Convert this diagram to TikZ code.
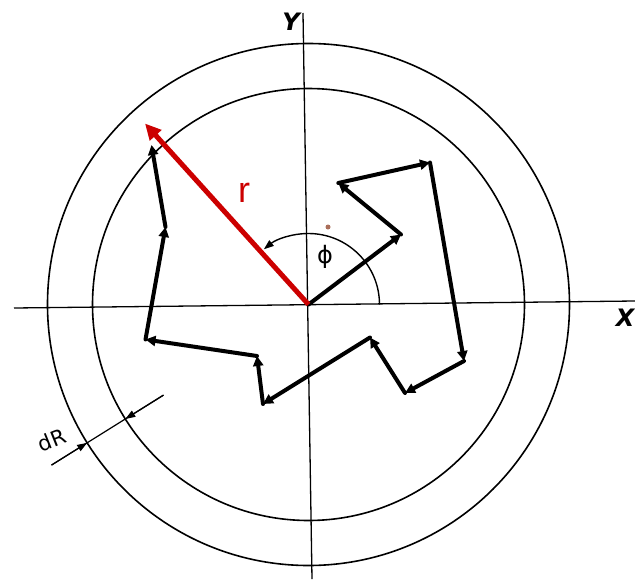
\documentclass[tikz,border=0pt]{standalone}
\usepackage{fontspec}
\setmainfont{Liberation Sans}
\newfontfamily\dejavu{DejaVu Sans}
\usetikzlibrary{arrows.meta,calc}
\definecolor{rred}{RGB}{204,0,0}
\definecolor{dotbrown}{RGB}{170,110,90}
\tikzset{
  ring/.style={line width=1.6pt, black},
  axis/.style={line width=1.3pt, black},
  walk/.style={line width=4pt, line cap=round, line join=round, -{Triangle[length=10pt,width=10pt]}},
  rvec/.style={line width=5pt, rred, -{Triangle[length=16pt,width=15pt]}},
  dimline/.style={line width=1.2pt},
  dimtip/.style={line width=1.2pt, -{Triangle[length=10pt,width=7pt]}},
  lbl/.style={inner sep=0pt}
}
\begin{document}
\begin{tikzpicture}[x=1pt,y=-1pt]
\useasboundingbox (0,0) rectangle (635,579);
\coordinate (O) at (308.5,304.5);
% axes
\coordinate (xl) at (14,308);
\coordinate (xr) at (635,301);
\coordinate (yt) at (303,13);
\coordinate (yb) at (312,579);
\draw[axis] (xl) -- (xr);
\draw[axis] (yt) -- (yb);
% rings
\draw[ring] (O) circle[radius=261];
\draw[ring] (O) circle[radius=216];
% random walk
\coordinate (p1) at (401,234.5);
\coordinate (p2) at (338.3,183);
\coordinate (p3) at (430,162.5);
\coordinate (p4) at (464,361);
\coordinate (p5) at (405,393);
\coordinate (p6) at (370,337.5);
\coordinate (p7) at (263,404);
\coordinate (p8) at (257,356);
\coordinate (p9) at (145.5,339.5);
\coordinate (p10) at (165.5,227);
\coordinate (p11) at (151.5,145);
\draw[walk] (O) -- (p1);
\draw[walk] (p1) -- (p2);
\draw[walk] (p2) -- (p3);
\draw[walk] (p3) -- (p4);
\draw[walk] (p4) -- (p5);
\draw[walk] (p5) -- (p6);
\draw[walk] (p6) -- (p7);
\draw[walk] (p7) -- (p8);
\draw[walk] (p8) -- (p9);
\draw[walk] (p9) -- (p10);
\draw[walk] (p10) -- (p11);
% phi arc
\coordinate (a0) at ($(O)+(0:71)$);
\draw[line width=1.4pt, -{Triangle[length=10pt,width=7pt]}] (a0) arc[start angle=0, end angle=-129, radius=71];
% red radius vector
\coordinate (rtip) at (145,123.5);
\draw[rvec] (O) -- (rtip);
% dR dimension
\coordinate (d1) at ($(O)+(148:303)$);
\coordinate (d2) at ($(O)+(148:261)$);
\coordinate (d3) at ($(O)+(148:216)$);
\coordinate (d4) at ($(O)+(148:171)$);
\draw[dimline] (d1) -- (d4);
\draw[dimtip] (d1) -- (d2);
\draw[dimtip] (d4) -- (d3);
% dot
\fill[dotbrown] (328,227) circle[radius=2.5];
% labels
\node[lbl, font=\dejavu\bfseries\itshape\fontsize{24}{24}\selectfont] (ylab) at (291,22) {Y};
\node[lbl, font=\dejavu\bfseries\itshape\fontsize{24}{24}\selectfont] (xlab) at (625,318) {X};
\node[lbl, rotate=22, font=\dejavu\fontsize{21}{21}\selectfont] (dRlab) at (52,440) {dR};
\node[lbl, text=rred, font=\fontsize{36}{36}\selectfont] (rlab) at (244,193) {r};
\node[lbl, font=\dejavu\fontsize{24}{24}\selectfont] (philab) at (325,257) {ϕ};
\end{tikzpicture}
\end{document}
